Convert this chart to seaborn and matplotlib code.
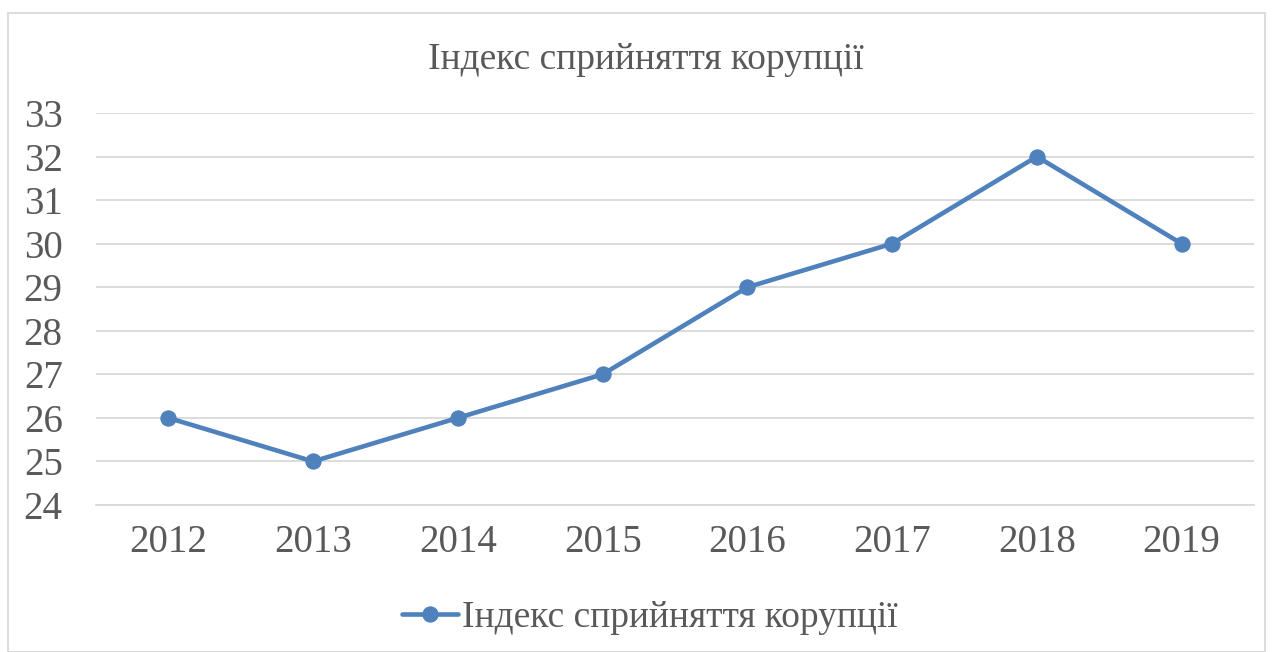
import matplotlib
matplotlib.use("Agg")
import matplotlib.pyplot as plt
import seaborn as sns
import pandas as pd
from matplotlib.patches import Rectangle

years = [2012, 2013, 2014, 2015, 2016, 2017, 2018, 2019]
values = [26, 25, 26, 27, 29, 30, 32, 30]
series_name = "Індекс сприйняття корупції"
title = "Індекс сприйняття корупції"
y_ticks = list(range(24, 34))

sns.set_theme(style="white")
plt.rcParams['font.family'] = ['Liberation Serif', 'DejaVu Serif']

text_color = "#595959"
line_color = "#4F81BD"
grid_color = "#D9D9D9"

df = pd.DataFrame({"year": years, "value": values})

fig = plt.figure(figsize=(12.73, 6.52), dpi=100)
ax = fig.add_axes([96/1273, 1-505/652, (1254-96)/1273, (505-113)/652])

sns.lineplot(data=df, x="year", y="value", ax=ax, color=line_color, linewidth=3.3,
             marker="o", markersize=11, markeredgecolor=line_color, label=series_name)

ax.set_xlim(years[0]-0.5, years[-1]+0.5)
ax.set_ylim(y_ticks[0], y_ticks[-1])
ax.set_yticks(y_ticks)
ax.set_xticks(years)
ax.set_xticklabels([str(y) for y in years])
ax.yaxis.grid(True, color=grid_color, linewidth=1.3)
ax.xaxis.grid(False)
ax.set_axisbelow(True)
for s in ["top", "right", "left"]:
    ax.spines[s].set_visible(False)
ax.spines["bottom"].set_color(grid_color)
ax.spines["bottom"].set_linewidth(1.3)
ax.tick_params(axis="both", length=0, labelsize=28, colors=text_color)
ax.tick_params(axis="y", pad=24)
ax.tick_params(axis="x", pad=14)
ax.set_xlabel("")
ax.set_ylabel("")

fig.text(646/1273, 1-60/652, title, ha="center", va="center", fontsize=27, color=text_color)

ax.legend(loc="center", frameon=False, fontsize=27, labelcolor=text_color,
          handlelength=1.5, handletextpad=0.1)
leg = ax.get_legend()
leg.set_bbox_to_anchor(((650-96)/(1254-96), -(618-505)/(505-113)), transform=ax.transAxes)

fig.patches.append(Rectangle((8/1273, 0.5/652), (1265-8)/1273, (652-13-0.5)/652,
                             transform=fig.transFigure, fill=False, edgecolor=grid_color, linewidth=1.3))

fig.savefig("out.png", dpi=100)
